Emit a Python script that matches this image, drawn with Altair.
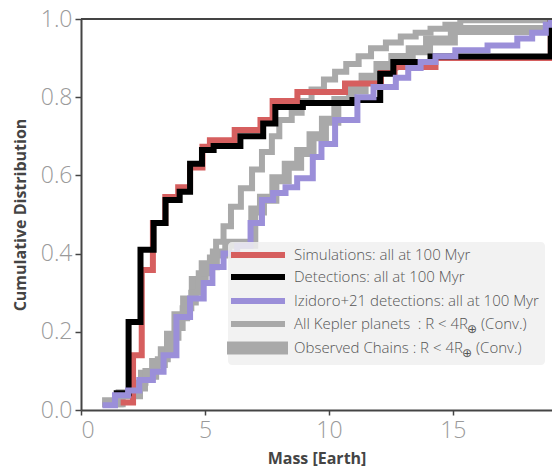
import altair as alt
import pandas as pd

# ---- cumulative mass distributions (step CDFs), mass in Earth masses ----
sim_x = [1.6, 2.1, 2.45, 2.9, 3.4, 3.92, 4.4, 4.9, 5.2, 6.2, 7.24, 7.73, 8.73, 10.65, 12.1, 12.65, 14.3, 18.95]
sim_y = [0.019, 0.14, 0.358, 0.478, 0.545, 0.57, 0.62, 0.673, 0.69, 0.716, 0.742, 0.79, 0.813, 0.835, 0.862, 0.877, 0.9, 1.0]

det_x = [1.32, 1.92, 2.4, 2.93, 3.41, 3.98, 4.4, 4.88, 5.35, 6.43, 7.35, 7.84, 8.95, 10.95, 12.07, 12.6, 14.1, 18.95]
det_y = [0.043, 0.225, 0.41, 0.478, 0.537, 0.558, 0.63, 0.665, 0.675, 0.70, 0.733, 0.775, 0.785, 0.793, 0.86, 0.89, 0.904, 1.0]

izi_x = [0.87, 1.37, 1.9, 2.35, 2.9, 3.33, 3.85, 4.4, 4.95, 5.3, 5.75, 6.3, 6.84, 7.3, 7.75, 8.25, 8.72,
         9.35, 9.7, 10.25, 11.15, 11.8, 12.7, 13.2, 13.7, 14.3, 15.1, 16.4, 17.6, 18.2, 18.75, 18.95]
izi_y = [0.012, 0.038, 0.05, 0.077, 0.098, 0.14, 0.238, 0.285, 0.325, 0.366, 0.40, 0.42, 0.478, 0.537, 0.555, 0.57, 0.593,
         0.647, 0.68, 0.742, 0.80, 0.826, 0.85, 0.875, 0.89, 0.905, 0.92, 0.932, 0.95, 0.965, 0.985, 1.0]

kep_x = [0.85, 1.6, 2.3, 2.6, 3.1, 3.5, 3.8, 4.1, 4.45, 4.75, 5.2, 5.45, 5.75, 6.05, 6.45, 6.9, 7.3, 7.7, 8.0,
         8.5, 8.9, 9.3, 9.8, 10.25, 10.7, 11.2, 11.7, 12.3, 12.9, 13.5, 14.1, 14.7, 15.3, 18.95]
kep_y = [0.015, 0.04, 0.07, 0.10, 0.13, 0.17, 0.21, 0.26, 0.30, 0.35, 0.39, 0.43, 0.47, 0.52, 0.567, 0.615, 0.66, 0.70, 0.742,
         0.76, 0.79, 0.82, 0.845, 0.865, 0.885, 0.905, 0.925, 0.94, 0.955, 0.965, 0.975, 0.985, 0.997, 1.0]

chain_x = [0.85, 1.6, 2.3, 2.5, 2.95, 3.3, 3.55, 3.85, 4.2, 4.55, 4.95, 5.4, 5.9, 6.95, 7.3, 7.8, 8.3, 8.8,
           9.3, 9.8, 10.3, 10.9, 11.4, 12.0, 12.6, 13.3, 14.0, 15.0, 18.95]
chain_y = [0.02, 0.04, 0.06, 0.09, 0.12, 0.15, 0.19, 0.24, 0.28, 0.33, 0.37, 0.40, 0.425, 0.51, 0.54, 0.59, 0.625, 0.66,
           0.70, 0.74, 0.79, 0.82, 0.85, 0.88, 0.90, 0.92, 0.945, 0.972, 1.0]

legend_labels = [
    "Simulations: all at 100 Myr",
    "Detections: all at 100 Myr",
    "Izidoro+21 detections: all at 100 Myr",
    "All Kepler planets\u2002: R < 4R",
    "Observed Chains : R < 4R",
]

RED, BLACK, PURPLE, GRAY = "#d65f5f", "#000000", "#9b8fd9", "#a9a9a9"
AX = "#444444"
TICK_FONT = "Open Sans"

W, H = 471, 391
xscale = alt.Scale(domain=[0, 19], nice=False, zero=False)
yscale = alt.Scale(domain=[0, 1], nice=False)

x_axis = alt.Axis(values=[0, 5, 10, 15], title="Mass [Earth]", grid=False,
                  labelFontSize=23, labelColor="#9a9a9a", labelFont=TICK_FONT, labelFontWeight=300,
                  labelPadding=4, tickSize=5, tickColor=AX, tickWidth=1.5,
                  domainColor=AX, domainWidth=2,
                  titleFontSize=16, titleFontWeight="bold", titleColor=AX, titleFont=TICK_FONT, titlePadding=8)
y_axis = alt.Axis(values=[0, 0.2, 0.4, 0.6, 0.8, 1.0], format=".1f", title="Cumulative Distribution", grid=False,
                  labelFontSize=23, labelColor="#9a9a9a", labelFont=TICK_FONT, labelFontWeight=300,
                  labelPadding=3, tickSize=6, tickColor=AX, tickWidth=1.5,
                  domainColor=AX, domainWidth=2,
                  titleFontSize=16, titleFontWeight="bold", titleColor=AX, titleFont=TICK_FONT, titlePadding=12)


def cdf_line(xs, ys, color, width):
    df = pd.DataFrame({"mass": xs, "frac": ys})
    return alt.Chart(df).mark_line(
        interpolate="step-after", color=color, strokeWidth=width, clip=True, strokeJoin="miter", strokeCap="butt"
    ).encode(
        x=alt.X("mass:Q", scale=xscale, axis=x_axis),
        y=alt.Y("frac:Q", scale=yscale, axis=y_axis),
    )


lines = [
    cdf_line(chain_x, chain_y, GRAY, 10),
    cdf_line(kep_x, kep_y, GRAY, 6),
    cdf_line(sim_x, sim_y, RED, 6),
    cdf_line(det_x, det_y, BLACK, 6),
    cdf_line(izi_x, izi_y, PURPLE, 6),
]

one = pd.DataFrame({"k": [0]})

# top spine
top = alt.Chart(one).mark_rule(color=AX, strokeWidth=2).encode(
    x=alt.value(0), x2=alt.value(W), y=alt.value(0))

# legend box (pixel layout inside the plot area)
box = alt.Chart(one).mark_rect(fill="#f0f0f0", opacity=0.85, cornerRadius=4).encode(
    x=alt.value(147), x2=alt.value(464), y=alt.value(223), y2=alt.value(346))

legend_rows = [
    (legend_labels[0], RED, 6, 150, 204, 236),
    (legend_labels[1], BLACK, 6, 150, 204, 258),
    (legend_labels[2], PURPLE, 6, 150, 204, 282),
    (legend_labels[3], GRAY, 6, 150, 204, 305),
    (legend_labels[4], GRAY, 13, 146, 207, 329),
]
legend_layers = [box]
for label, color, sw, x0, x1, yy in legend_rows:
    legend_layers.append(alt.Chart(one).mark_rule(color=color, strokeWidth=sw).encode(
        x=alt.value(x0), x2=alt.value(x1), y=alt.value(yy)))
    legend_layers.append(alt.Chart(one).mark_text(
        text=label, align="left", baseline="middle", font=TICK_FONT, fontWeight=300, fontSize=15, color="#555555"
    ).encode(x=alt.value(213), y=alt.value(yy)))

# subscript earth symbols and the "(Conv.)" tails
for xs, xc, yy in [(386, 400, 305), (381, 395, 329)]:
    legend_layers.append(alt.Chart(one).mark_text(
        text="⊕", align="left", baseline="middle", font="DejaVu Sans", fontSize=12, color="#555555"
    ).encode(x=alt.value(xs), y=alt.value(yy + 5)))
    legend_layers.append(alt.Chart(one).mark_text(
        text="(Conv.)", align="left", baseline="middle", font=TICK_FONT, fontWeight=300, fontSize=15, color="#555555"
    ).encode(x=alt.value(xc), y=alt.value(yy)))

chart = alt.layer(*lines, top, *legend_layers).properties(
    width=W, height=H,
    autosize=alt.AutoSizeParams(type="none"),
    padding={"left": 81, "top": 19, "right": 0, "bottom": 58},
).configure_view(stroke="transparent").configure(background="white")

chart.save("out.html", embed_options={"renderer": "svg", "actions": False})
